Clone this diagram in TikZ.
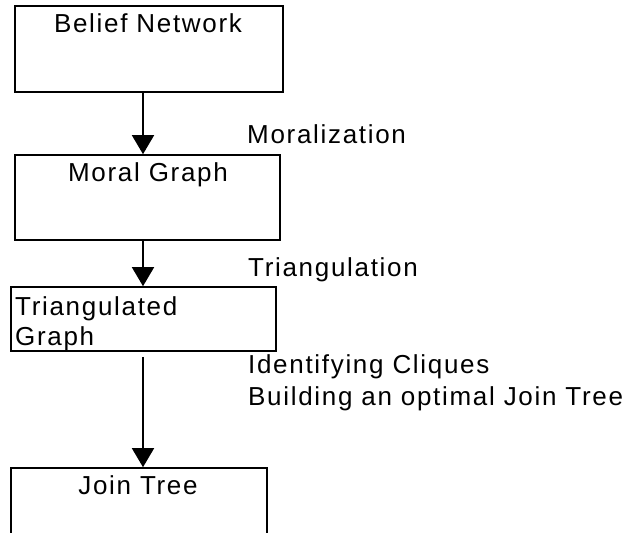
\documentclass[tikz,border=0pt]{standalone}
\usepackage{fontspec}
\newfontfamily\lsfont[LetterSpace=6.5]{Liberation Sans}
\usetikzlibrary{arrows.meta}
\begin{document}
\begin{tikzpicture}[x=1pt,y=-1pt,
  box/.style={draw=black,line width=1.6pt,rectangle,inner sep=0pt,fill=none},
  lbl/.style={inner sep=0pt,font=\lsfont\fontsize{26}{30}\selectfont},
  arr/.style={draw=black,line width=1.6pt,-{Triangle[width=22pt,length=19pt]}}]
\useasboundingbox[fill=white] (0,0) rectangle (633,533);
% boxes
\node[box,minimum width=268pt,minimum height=86pt] (bn) at (149,49) {};
\node[box,minimum width=265pt,minimum height=85pt] (mg) at (147.5,197.5) {};
\node[box,minimum width=265pt,minimum height=64pt] (tg) at (143.5,319) {};
\node[box,minimum width=256pt,minimum height=80pt] (jt) at (139,508) {};
% box labels
\node[lbl,anchor=base] (tbn) at (148,32) {Belief Network};
\node[lbl,anchor=base] (tmg) at (148,181) {Moral Graph};
\node[lbl,anchor=base west] (ttg1) at (15,315) {Triangulated};
\node[lbl,anchor=base west] (ttg2) at (15,345) {Graph};
\node[lbl,anchor=base] (tjt) at (138,494) {Join Tree};
% step labels
\node[lbl,anchor=base west] (mor) at (247,143) {Moralization};
\node[lbl,anchor=base west] (tri) at (248,276) {Triangulation};
\node[lbl,anchor=base west] (idc) at (248,373) {Identifying Cliques};
\node[lbl,anchor=base west] (bjt) at (248,405) {Building an optimal Join Tree};
% arrows
\coordinate (ax) at (143,0);
\draw[arr] (ax |- bn.south) -- (ax |- mg.north);
\draw[arr] (ax |- mg.south) -- (ax |- tg.north);
\draw[arr,shorten <=5pt] (ax |- tg.south) -- (ax |- jt.north);
\end{tikzpicture}
\end{document}
